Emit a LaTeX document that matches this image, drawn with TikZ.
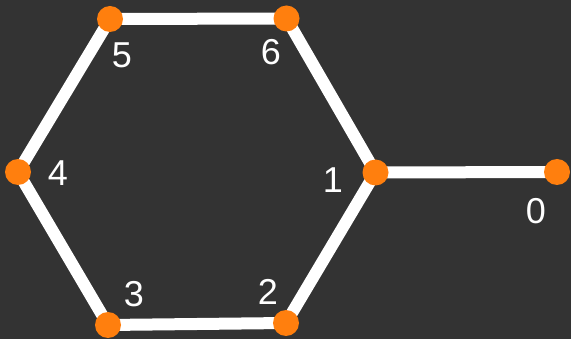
\documentclass[tikz,border=0pt]{standalone}
\usepackage{fontspec}
\setmainfont{Liberation Sans}
\definecolor{bg}{HTML}{333333}
\definecolor{vorange}{RGB}{255,127,14}
\begin{document}
\begin{tikzpicture}[x=1pt,y=-1pt,
  vertex/.style={circle,fill=vorange,minimum size=26pt,inner sep=0pt},
  edge/.style={white,line width=12pt},
  lbl/.style={text=white,font=\fontsize{36}{36}\selectfont,inner sep=0pt}]
\fill[bg] (0,0) rectangle (571,339);
\useasboundingbox (0,0) rectangle (571,339);
\coordinate (p0) at (557,172);
\coordinate (p1) at (375.5,172.5);
\coordinate (p2) at (286,323);
\coordinate (p3) at (108,325);
\coordinate (p4) at (18,172);
\coordinate (p5) at (110,19);
\coordinate (p6) at (286.5,18.5);
\draw[edge] (p1) -- (p0);
\draw[edge] (p1) -- (p2) -- (p3) -- (p4) -- (p5) -- (p6) -- cycle;
\foreach \i in {0,...,6} {\node[vertex] (v\i) at (p\i) {};}
\node[lbl] (l0) at (536,211) {0};
\node[lbl] (l1) at (333,180) {1};
\node[lbl] (l2) at (268,292) {2};
\node[lbl] (l3) at (134,294) {3};
\node[lbl] (l4) at (58,173) {4};
\node[lbl] (l5) at (122,55) {5};
\node[lbl] (l6) at (271,52) {6};
\end{tikzpicture}
\end{document}
